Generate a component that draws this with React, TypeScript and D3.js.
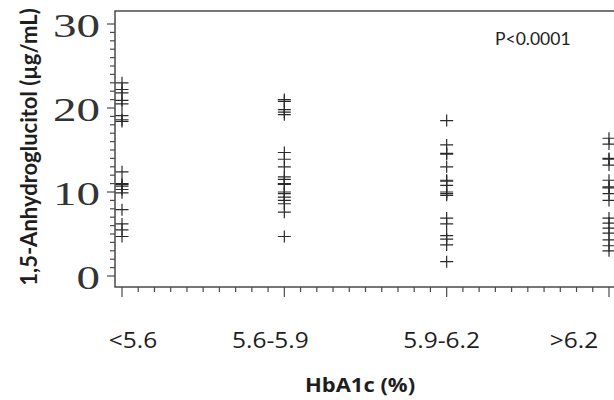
import { scaleLinear, range } from "d3";

const categories = ["<5.6", "5.6-5.9", "5.9-6.2", ">6.2"];

const groupLow = [23.0, 22.2, 21.8, 20.9, 20.5, 19.1, 18.6, 18.4, 12.4, 11.0, 10.9, 10.7, 10.3, 9.9, 7.9, 6.2, 5.5, 4.7];
const groupMid = [21.0, 20.8, 19.8, 19.5, 19.2, 14.7, 13.9, 13.0, 11.8, 11.5, 11.0, 10.9, 10.0, 9.8, 9.4, 9.0, 8.6, 7.6, 4.7];
const groupHigh = [18.5, 15.6, 14.6, 14.5, 13.0, 11.4, 11.3, 10.8, 10.0, 9.8, 9.6, 6.9, 6.2, 4.8, 4.4, 3.7, 1.7];
const groupTop = [16.4, 15.7, 14.0, 13.9, 13.2, 11.4, 10.6, 10.5, 9.8, 9.0, 6.9, 6.3, 5.7, 5.1, 4.3, 3.6, 3.0];

const groups = [groupLow, groupMid, groupHigh, groupTop];
const yTickLabels = [0, 10, 20, 30];

const width = 614;
const height = 400;
const frame = { left: 115, top: 11, bottom: 287, right: 622 };

// the category labels in the source sit a bit off their ticks
const labelShift = [11, -14, -5, -35];

const x = scaleLinear().domain([1, 4]).range([122, 609]);
const y = scaleLinear().domain([0, 30]).range([276, 24]);

const ink = "#333";

const App = () => {
	const yMinor = range(0, 31, 1);
	const xMinor = range(10, 42, 1).map((d) => d / 10);

	return (
		<svg
			width={width}
			height={height}
			style={{ position: "absolute", left: 0, top: 0, background: "#fff" }}
		>
			<rect
				x={frame.left}
				y={frame.top}
				width={frame.right - frame.left}
				height={frame.bottom - frame.top}
				fill="none"
				stroke="#4a4a4a"
				strokeWidth={1.5}
			/>

			{/* y axis ticks */}
			{yMinor.map((d) => (
				<line
					key={"yt" + d}
					x1={frame.left}
					x2={frame.left - (d % 10 === 0 ? 8 : 5)}
					y1={y(d)}
					y2={y(d)}
					stroke="#4a4a4a"
					strokeWidth={1.2}
				/>
			))}
			{yTickLabels.map((d) => (
				<text
					key={"yl" + d}
					transform={`translate(100,${y(d) + 13}) scale(1,0.71)`}
					textAnchor="end"
					fontFamily="Liberation Serif"
					fontSize={47}
					fill={ink}
				>
					{d}
				</text>
			))}

			{/* x axis ticks */}
			{xMinor.map((d, i) => (
				<line
					key={"xt" + i}
					x1={x(d)}
					x2={x(d)}
					y1={frame.bottom}
					y2={frame.bottom + (i % 10 === 0 ? 10 : 5)}
					stroke="#4a4a4a"
					strokeWidth={1.2}
				/>
			))}
			{categories.map((c, i) => (
				<text
					key={c}
					transform={`translate(${x(i + 1) + labelShift[i]},348) scale(1,0.88)`}
					textAnchor="middle"
					fontFamily="Open Sans"
					fontSize={24.5}
					fill="#1e1e1e"
				>
					{c}
				</text>
			))}

			{/* points */}
			{groups.map((vals, i) =>
				vals.map((v, j) => (
					<path
						key={i + "-" + j}
						d={`M${x(i + 1) - 6.5},${y(v)}h13M${x(i + 1)},${y(v) - 6}v12`}
						stroke="#2a2a2a"
						strokeWidth={1.2}
						fill="none"
					/>
				))
			)}

			<text
				x={495}
				y={45}
				fontFamily="Lato"
				fontSize={17.5}
				fill="#222"
			>
				P&lt;0.0001
			</text>

			<text
				transform="translate(360,392) scale(1,0.85)"
				textAnchor="middle"
				fontFamily="Open Sans"
				fontWeight="bold"
				fontSize={22}
				fill="#1e1e1e"
			>
				HbA1c (%)
			</text>

			<text
				transform="translate(37,147) rotate(-90)"
				textAnchor="middle"
				fontFamily="Lato"
				fontWeight="bold"
				fontSize={22}
				fill="#1e1e1e"
			>
				1,5-Anhydroglucitol (µg/mL)
			</text>
		</svg>
	);
};

export default App;
